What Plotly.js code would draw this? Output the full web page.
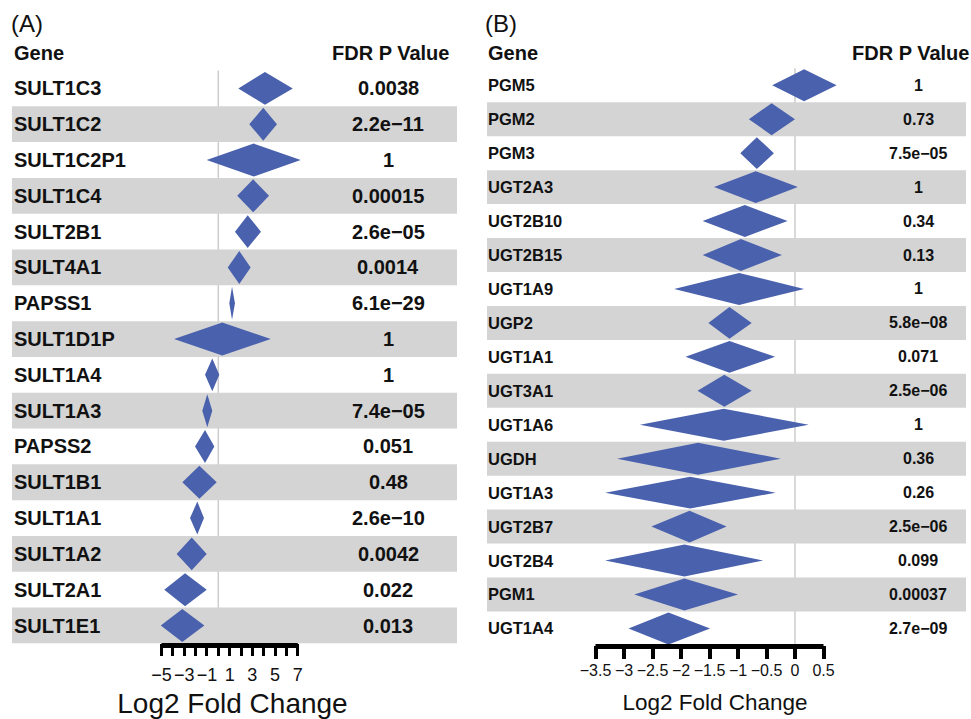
<!DOCTYPE html>
<html>
<head>
<meta charset="utf-8">
<script src="https://cdn.plot.ly/plotly-3.0.1.min.js"></script>
<style>html,body{margin:0;padding:0;background:#fff;}#chart{width:971px;height:719px;}</style>
</head>
<body>
<div id="chart"></div>
<script>
// ---------- DATA ----------
const genesA = ['SULT1C3','SULT1C2','SULT1C2P1','SULT1C4','SULT2B1','SULT4A1','PAPSS1','SULT1D1P','SULT1A4','SULT1A3','PAPSS2','SULT1B1','SULT1A1','SULT1A2','SULT2A1','SULT1E1'];
const loA  = [1.76, 2.73, -1.02, 1.67, 1.47, 0.83, 0.97, -3.90, -1.17, -1.41, -2.05, -3.17, -2.49, -3.67, -4.76, -5.07];
const estA = [4.11, 3.96, 3.12, 3.07, 2.59, 1.85, 1.21, 0.35, -0.53, -0.97, -1.17, -1.67, -1.85, -2.34, -2.93, -3.17];
const hiA  = [6.56, 5.17, 7.26, 4.47, 3.76, 2.85, 1.47, 4.62, 0.09, -0.53, -0.35, -0.14, -1.26, -1.02, -1.02, -1.23];
const pA   = ['0.0038','2.2e\u221211','1','0.00015','2.6e\u221205','0.0014','6.1e\u221229','1','1','7.4e\u221205','0.051','0.48','2.6e\u221210','0.0042','0.022','0.013'];
const tickValsA = [-5,-4,-3,-2,-1,0,1,2,3,4,5,6,7];
const tickTextA = ['\u22125','','\u22123','','\u22121','','1','','3','','5','','7'];

const genesB = ['PGM5','PGM2','PGM3','UGT2A3','UGT2B10','UGT2B15','UGT1A9','UGP2','UGT1A1','UGT3A1','UGT1A6','UGDH','UGT1A3','UGT2B7','UGT2B4','PGM1','UGT1A4'];
const loB  = [-0.40, -0.81, -0.96, -1.42, -1.62, -1.62, -2.12, -1.52, -1.92, -1.71, -2.72, -3.12, -3.33, -2.52, -3.33, -2.82, -2.92];
const estB = [0.16, -0.41, -0.67, -0.69, -0.88, -0.95, -0.98, -1.15, -1.15, -1.24, -1.25, -1.70, -1.84, -1.85, -1.94, -1.94, -2.22];
const hiB  = [0.73, 0.00, -0.37, 0.05, -0.13, -0.23, 0.16, -0.76, -0.35, -0.76, 0.24, -0.25, -0.34, -1.20, -0.56, -1.00, -1.49];
const pB   = ['1','0.73','7.5e\u221205','1','0.34','0.13','1','5.8e\u221208','0.071','2.5e\u221206','1','0.36','0.26','2.5e\u221206','0.099','0.00037','2.7e\u221209'];
const tickValsB = [-3.5,-3,-2.5,-2,-1.5,-1,-0.5,0,0.5];
const tickTextB = ['\u22123.5','\u22123','\u22122.5','\u22122','\u22121.5','\u22121','\u22120.5','0','0.5'];

// ---------- LAYOUT CONSTANTS (pixels) ----------
const W = 971, H = 719;
const FONT = 'Liberation Sans, Arial, Helvetica, sans-serif';
const BLUE = '#4a61ad', BAND = '#d4d4d4', ZL = '#cdcdcd';
const px = v => v / W, py = v => 1 - v / H;

const A = {zero: 218.3, ppu: 11.35, d0: 150, d1: 315, top: 70.5, bot: 643.4, bandL: 12, bandR: 457,
           geneX: 12, pX: 388, hdrP: 390, half: 0.46, barY: 645.5, gSize: 20, pSize: 20};
const B = {zero: 795, ppu: 57, d0: 585, d1: 845, top: 68.3, bot: 645.4, bandL: 487, bandR: 966,
           geneX: 486, pX: 918, hdrP: 910, half: 0.47, barY: 646.5, gSize: 16.5, pSize: 16};

function diamonds(lo, est, hi, half) {
  const xs = [], ys = [];
  lo.forEach((l, i) => {
    xs.push(l, est[i], hi[i], est[i], l, null);
    ys.push(i, i - half, i, i + half, i, null);
  });
  return {xs, ys};
}

const dA = diamonds(loA, estA, hiA, A.half);
const dB = diamonds(loB, estB, hiB, B.half);

const traces = [
  {type: 'scatter', mode: 'lines', x: dA.xs, y: dA.ys, xaxis: 'x', yaxis: 'y',
   fill: 'toself', fillcolor: BLUE, line: {width: 0, color: BLUE}, hoverinfo: 'skip'},
  {type: 'scatter', mode: 'lines', x: dB.xs, y: dB.ys, xaxis: 'x2', yaxis: 'y2',
   fill: 'toself', fillcolor: BLUE, line: {width: 0, color: BLUE}, hoverinfo: 'skip'}
];

const shapes = [];
const annotations = [];

function panel(P, genes, pvals, tickVals, xref, yref, label) {
  shapes.push({type: 'line', layer: 'below', xref: xref, yref: 'paper', x0: 0, x1: 0,
               y0: py(P.bot), y1: py(P.top), line: {color: ZL, width: 1.5}});
  genes.forEach((g, i) => {
    if (i % 2 === 1) {
      shapes.push({type: 'rect', layer: 'below', xref: 'paper', yref: yref,
                   x0: px(P.bandL), x1: px(P.bandR), y0: i - 0.5, y1: i + 0.5,
                   fillcolor: BAND, line: {width: 0}});
    }
  });
  shapes.push({type: 'line', xref: xref, yref: 'paper', x0: tickVals[0], x1: tickVals[tickVals.length - 1],
               y0: py(P.barY), y1: py(P.barY), line: {color: '#000', width: 5}});
  genes.forEach((g, i) => {
    annotations.push({xref: 'paper', yref: yref, x: px(P.geneX), y: i, text: g, showarrow: false,
                      xanchor: 'left', yanchor: 'middle',
                      font: {family: FONT, size: P.gSize, color: '#111', weight: 'bold'}});
    annotations.push({xref: 'paper', yref: yref, x: px(P.pX), y: i, text: pvals[i], showarrow: false,
                      xanchor: 'center', yanchor: 'middle',
                      font: {family: FONT, size: P.pSize, color: '#111', weight: 'bold'}});
  });
  annotations.push({xref: 'paper', yref: 'paper', x: px(P.geneX), y: py(53), text: 'Gene', showarrow: false,
                    xanchor: 'left', yanchor: 'middle', font: {family: FONT, size: 20, color: '#111', weight: 'bold'}});
  annotations.push({xref: 'paper', yref: 'paper', x: px(P.hdrP), y: py(53), text: 'FDR P Value', showarrow: false,
                    xanchor: 'center', yanchor: 'middle', font: {family: FONT, size: 20, color: '#111', weight: 'bold'}});
  annotations.push({xref: 'paper', yref: 'paper', x: px(P.geneX - 3), y: py(23), text: label, showarrow: false,
                    xanchor: 'left', yanchor: 'middle', font: {family: FONT, size: 24, color: '#111'}});
}

panel(A, genesA, pA, tickValsA, 'x', 'y', '(A)');
panel(B, genesB, pB, tickValsB, 'x2', 'y2', '(B)');

const layout = {
  width: W, height: H,
  margin: {l: 0, r: 0, t: 0, b: 0, pad: 0},
  paper_bgcolor: '#fff', plot_bgcolor: 'rgba(0,0,0,0)',
  showlegend: false,
  font: {family: FONT, color: '#111'},
  xaxis: {
    domain: [px(A.d0), px(A.d1)], anchor: 'y',
    range: [(A.d0 - A.zero) / A.ppu, (A.d1 - A.zero) / A.ppu],
    showgrid: false, zeroline: false, showline: false,
    ticks: 'outside', ticklen: 12, tickwidth: 3, tickcolor: '#000',
    tickmode: 'array', tickvals: tickValsA, ticktext: tickTextA,
    tickfont: {family: FONT, size: 18, color: '#111'}, ticklabelstandoff: 3,
    title: {text: 'Log2 Fold Change', font: {family: FONT, size: 28, color: '#111'}, standoff: 13},
    automargin: false, fixedrange: true
  },
  yaxis: {
    domain: [py(A.bot), py(A.top)], anchor: 'x',
    range: [genesA.length - 0.5, -0.5],
    visible: false, showgrid: false, zeroline: false, fixedrange: true
  },
  xaxis2: {
    domain: [px(B.d0), px(B.d1)], anchor: 'y2',
    range: [(B.d0 - B.zero) / B.ppu, (B.d1 - B.zero) / B.ppu],
    showgrid: false, zeroline: false, showline: false,
    ticks: 'outside', ticklen: 13, tickwidth: 4, tickcolor: '#000',
    tickmode: 'array', tickvals: tickValsB, ticktext: tickTextB,
    tickfont: {family: FONT, size: 16, color: '#111'}, ticklabelstandoff: -3,
    title: {text: 'Log2 Fold Change', font: {family: FONT, size: 22.5, color: '#111'}, standoff: 16},
    automargin: false, fixedrange: true
  },
  yaxis2: {
    domain: [py(B.bot), py(B.top)], anchor: 'x2',
    range: [genesB.length - 0.5, -0.5],
    visible: false, showgrid: false, zeroline: false, fixedrange: true
  },
  shapes: shapes,
  annotations: annotations
};

Plotly.newPlot('chart', traces, layout, {displayModeBar: false, staticPlot: true});
</script>
</body>
</html>
